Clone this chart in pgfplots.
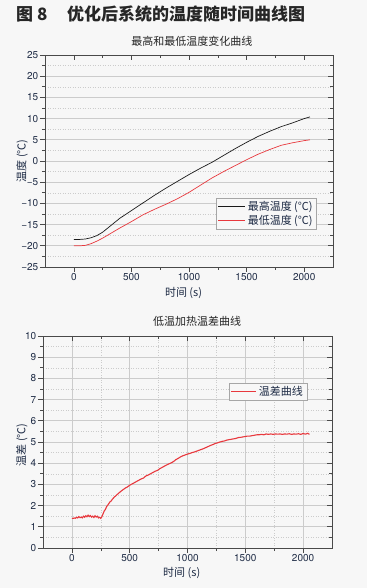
\documentclass[border=0pt]{standalone}
\usepackage{pgfplots}
\pgfplotsset{compat=1.18}
\usepackage{fontspec}
\setmainfont{TeX Gyre Heros}
\newfontfamily\cjk{Noto Sans CJK SC}
\definecolor{bg}{HTML}{F7F7F7}
\definecolor{txt}{HTML}{1E2B45}
\definecolor{titc}{HTML}{262626}
\definecolor{axisc}{HTML}{4A4A4A}
\definecolor{gridc}{HTML}{CCCCCC}
\definecolor{myred}{HTML}{E8383D}
\definecolor{myblack}{HTML}{1A1A1A}

\pgfplotstableread{
t T
0 -18.5
50 -18.5
100 -18.4
150 -18.1
200 -17.6
250 -16.8
300 -15.7
350 -14.6
400 -13.5
450 -12.6
500 -11.7
600 -9.9
700 -8.1
800 -6.4
900 -4.8
1000 -3.2
1100 -1.7
1200 -0.3
1300 1.3
1400 2.9
1500 4.4
1600 5.8
1700 7.0
1800 8.1
1900 9.0
2000 10.0
2050 10.4
}\maxT

\pgfplotstableread{
t T
0 -20.0
50 -20.0
100 -19.9
150 -19.5
200 -18.9
250 -18.2
300 -17.4
350 -16.6
400 -15.8
500 -14.3
600 -12.7
700 -11.4
800 -10.2
900 -8.9
1000 -7.4
1100 -5.7
1200 -4.0
1300 -2.5
1400 -1.1
1500 0.3
1600 1.6
1700 2.7
1800 3.7
1900 4.3
2000 4.8
2050 5.0
}\minT

\pgfplotstableread{
t d
0 1.40
15 1.40
20 1.42
30 1.40
40 1.45
50 1.42
60 1.48
70 1.43
80 1.46
90 1.42
100 1.50
110 1.45
120 1.52
130 1.47
140 1.55
150 1.48
160 1.53
170 1.46
180 1.50
190 1.44
200 1.52
210 1.46
220 1.50
230 1.42
240 1.45
250 1.40
260 1.48
270 1.62
280 1.75
290 1.82
300 1.95
310 2.02
320 2.10
330 2.18
340 2.22
350 2.30
360 2.36
370 2.42
380 2.46
390 2.52
400 2.56
420 2.66
440 2.74
460 2.82
480 2.88
500 2.96
520 3.02
540 3.08
560 3.14
580 3.20
600 3.26
620 3.30
640 3.40
660 3.44
680 3.50
700 3.56
720 3.62
740 3.66
760 3.74
780 3.80
800 3.86
820 3.92
840 3.97
860 4.02
880 4.08
900 4.17
920 4.23
940 4.30
960 4.35
980 4.39
1000 4.43
1020 4.46
1040 4.50
1060 4.53
1080 4.57
1100 4.61
1120 4.65
1140 4.69
1160 4.74
1180 4.79
1200 4.84
1220 4.88
1240 4.93
1260 4.96
1280 5.00
1300 5.03
1320 5.05
1340 5.09
1360 5.11
1380 5.13
1400 5.15
1420 5.17
1440 5.21
1460 5.22
1480 5.24
1500 5.26
1520 5.28
1540 5.28
1560 5.30
1580 5.32
1600 5.34
1620 5.34
1640 5.36
1660 5.34
1680 5.38
1700 5.36
1720 5.38
1740 5.36
1760 5.38
1780 5.37
1800 5.38
1820 5.36
1840 5.38
1860 5.37
1880 5.39
1900 5.36
1920 5.38
1940 5.37
1960 5.39
1980 5.36
2000 5.40
2020 5.37
2040 5.41
2055 5.36
}\diffT

\pgfplotsset{
  geom/.style={scale only axis, anchor=south west, xmin=-250, xmax=2250,
    xtick={0,500,...,2000}, minor x tick num=1,
    axis line style={axisc, line width=0.8pt},
    tick style={axisc, line width=0.6pt},
    major tick length=5pt, minor tick length=3pt},
  base/.style={geom, tick align=outside, xtick pos=left, ytick pos=left,
    /pgf/number format/assume math mode=true,
    /pgf/number format/1000 sep={},
    tick label style={font=\fontsize{10}{12}\selectfont, text=txt},
    xticklabel style={inner sep=1pt},
    yticklabel style={inner sep=1.5pt},
    major grid style={gridc, line width=0.6pt},
    minor grid style={gridc, line width=0.5pt, dotted},
    label style={font=\cjk\fontsize{11}{13}\selectfont, text=txt},
    title style={font=\cjk\fontsize{11}{13}\selectfont, text=titc},
    legend cell align=left,
    legend image code/.code={\draw[##1] (0pt,0pt) -- (27pt,0pt);}},
  mirror/.style={geom, tick align=inside, xtick pos=right, ytick pos=right,
    xticklabels={}, yticklabels={}}
}

\begin{document}
\begin{tikzpicture}
\fill[bg] (0pt,0pt) rectangle (367pt,588pt);
\useasboundingbox (0pt,0pt) rectangle (367pt,588pt);
\node[anchor=west, inner sep=0, text=titc, font=\cjk\bfseries\fontsize{17}{20}\selectfont] at (16pt,573.5pt) {图 8};
\node[anchor=west, inner sep=0, text=titc, font=\cjk\bfseries\fontsize{17}{20}\selectfont] at (67pt,573.5pt) {优化后系统的温度随时间曲线图};

% ---------- top chart ----------
\begin{axis}[base, at={(45pt,321pt)}, width=288pt, height=212pt,
  ymin=-25, ymax=25, ytick={-25,-20,...,25}, minor y tick num=1,
  yticklabels={−25,−20,−15,−10,−5,0,5,10,15,20,25},
  ymajorgrids, yminorgrids,
  title={最高和最低温度变化曲线},
  title style={at={(axis description cs:0.51,1.0377)}, anchor=center},
  xlabel={时间 (s)},
  xlabel style={at={(axis description cs:0.481,-0.1226)}, anchor=center},
  ylabel={温度 (℃)},
  ylabel style={at={(axis description cs:-0.0799,0.5)}, anchor=center},
  legend style={at={(0.944,0.325)}, anchor=north east, draw=gray!70, fill=bg,
    font=\cjk\fontsize{11}{12}\selectfont, text=txt, inner xsep=2pt, inner ysep=1pt,
    row sep=-1pt}]
\addplot[myblack, line width=0.7pt] table[x=t,y=T] {\maxT};
\addlegendentry{最高温度 (℃)}
\addplot[myred, line width=0.7pt] table[x=t,y=T] {\minT};
\addlegendentry{最低温度 (℃)}
\end{axis}
\begin{axis}[mirror, at={(45pt,321pt)}, width=288pt, height=212pt,
  ymin=-25, ymax=25, ytick={-25,-20,...,25}, minor y tick num=1]
\end{axis}

% ---------- bottom chart ----------
\begin{axis}[base, at={(43pt,40pt)}, width=289pt, height=212pt,
  ymin=0, ymax=10, ytick={0,1,...,10}, minor y tick num=1,
  xmajorgrids, xminorgrids, ymajorgrids, yminorgrids,
  title={低温加热温差曲线},
  title style={at={(axis description cs:0.533,1.0425)}, anchor=center},
  xlabel={时间 (s)},
  xlabel style={at={(axis description cs:0.48,-0.118)}, anchor=center},
  ylabel={温差 (℃)},
  ylabel style={at={(axis description cs:-0.073,0.486)}, anchor=center},
  legend image code/.code={\draw[draw=myred, line width=1pt] (0pt,0pt) -- (25pt,0pt);},
  legend style={at={(0.9135,0.778)}, anchor=north east, draw=gray!70, fill=bg,
    font=\cjk\fontsize{11}{12}\selectfont, text=txt, inner xsep=2pt, inner ysep=1pt,
    row sep=-1pt}]
\addplot[myred, line width=1.1pt] table[x=t,y=d] {\diffT};
\addlegendentry{温差曲线}
\end{axis}
\begin{axis}[mirror, at={(43pt,40pt)}, width=289pt, height=212pt,
  ymin=0, ymax=10, ytick={0,1,...,10}, minor y tick num=1]
\end{axis}
\end{tikzpicture}
\end{document}
